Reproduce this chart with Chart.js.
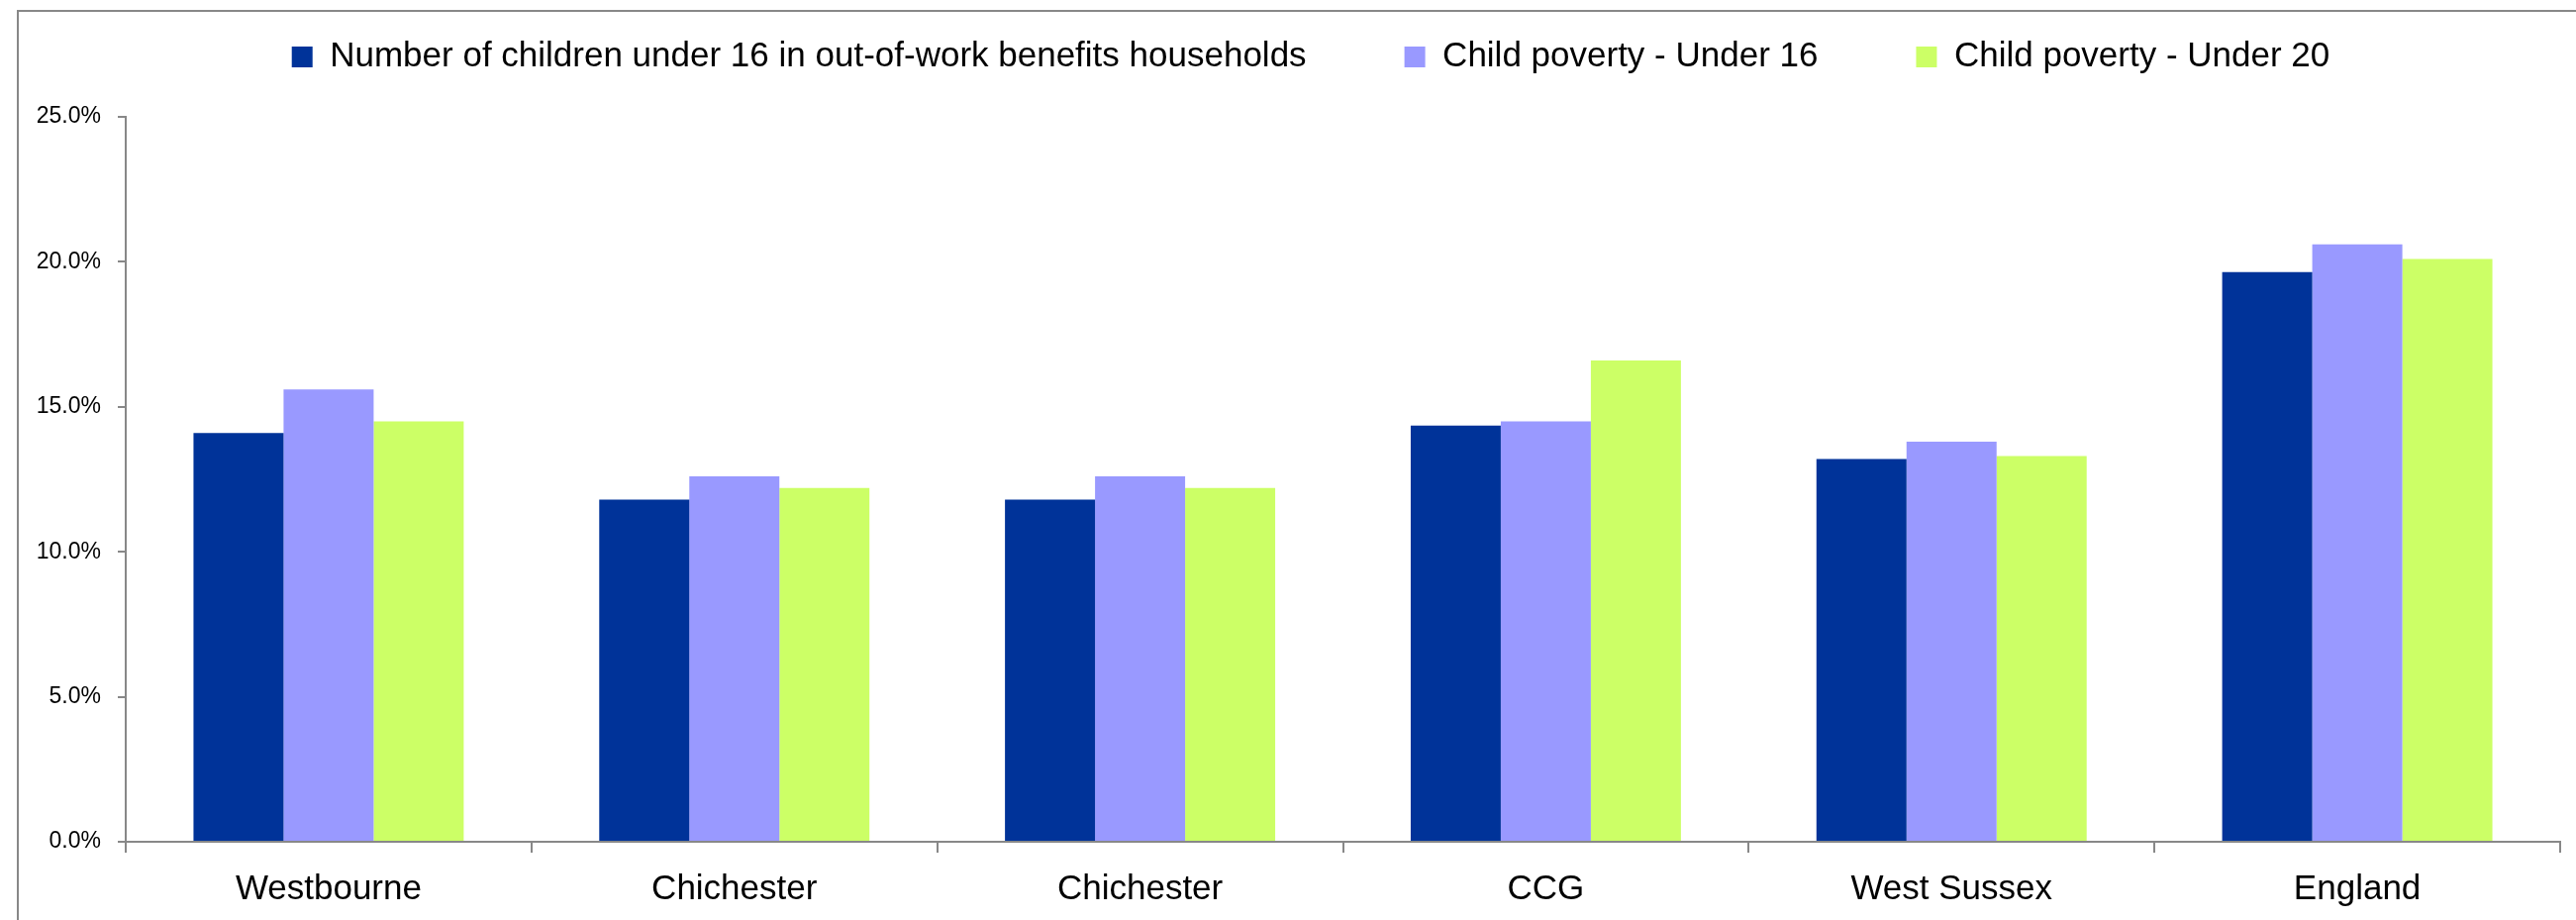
<!DOCTYPE html>
<html>
<head>
<meta charset="utf-8">
<style>
body { margin: 0; background: #fff; }
</style>
</head>
<body>
<canvas id="barChart" width="2602" height="929"></canvas>

<script src="https://cdn.jsdelivr.net/npm/chart.js"></script>

<script>
// values (percent)
const areas = ['Westbourne', 'Chichester', 'Chichester', 'CCG', 'West Sussex', 'England'];
const outOfWorkUnder16 = [14.1, 11.8, 11.8, 14.35, 13.2, 19.65];
const povertyUnder16 = [15.6, 12.6, 12.6, 14.5, 13.8, 20.6];
const povertyUnder20 = [14.5, 12.2, 12.2, 16.6, 13.3, 20.1];
const seriesNames = [
    'Number of children under 16 in out-of-work benefits households',
    'Child poverty - Under 16',
    'Child poverty - Under 20'
];
const yTicks = [0, 5, 10, 15, 20, 25];

const axisGrey = '#888888';

// push the plot area down below the legend, and nudge the legend right
const legendGap = {
    id: 'legendGap',
    beforeInit(chart) {
        const fit = chart.legend.fit;
        chart.legend.fit = function () {
            fit.call(this);
            this.height += 33;
        };
    },
    afterLayout(chart) {
        chart.legend.left += 44;
    }
};

// grey frame round the chart, like the Excel chart border
const frame = {
    id: 'frame',
    afterDraw(chart) {
        let ctx = chart.ctx;
        ctx.save();
        ctx.strokeStyle = axisGrey;
        ctx.lineWidth = 2;
        ctx.beginPath();
        ctx.moveTo(18, 929);
        ctx.lineTo(18, 11);
        ctx.lineTo(2602, 11);
        ctx.stroke();
        ctx.restore();
    }
};

let ctx = document.getElementById('barChart').getContext('2d');
let chart = new Chart(ctx, {
    type: 'bar',
    data: {
        labels: areas,
        datasets: [{
            label: seriesNames[0],
            data: outOfWorkUnder16,
            backgroundColor: '#003399'
        }, {
            label: seriesNames[1],
            data: povertyUnder16,
            backgroundColor: '#9999FF'
        }, {
            label: seriesNames[2],
            data: povertyUnder20,
            backgroundColor: '#CCFF66'
        }]
    },
    options: {
        responsive: false,
        animation: false,
        datasets: {
            bar: {
                categoryPercentage: 0.666,
                barPercentage: 1,
                borderWidth: 0
            }
        },
        layout: {
            padding: { top: -59, left: 18, right: 16, bottom: 0 }
        },
        plugins: {
            legend: {
                position: 'top',
                labels: {
                    boxWidth: 21,
                    boxHeight: 21,
                    padding: 99,
                    color: '#000',
                    font: { family: 'Liberation Sans', size: 35 }
                }
            },
            tooltip: { enabled: false }
        },
        scales: {
            x: {
                grid: {
                    drawOnChartArea: false,
                    offset: true,
                    color: axisGrey,
                    lineWidth: 2,
                    tickLength: 11
                },
                border: { color: axisGrey, width: 2 },
                ticks: {
                    color: '#000',
                    padding: 16,
                    font: { family: 'Liberation Sans', size: 35 }
                },
                afterFit(scale) {
                    scale.height = 79;
                }
            },
            y: {
                min: 0,
                max: 25,
                afterBuildTicks(scale) {
                    scale.ticks = yTicks.map(v => ({ value: v }));
                },
                grid: {
                    drawOnChartArea: false,
                    color: axisGrey,
                    lineWidth: 2,
                    tickLength: 8
                },
                border: { color: axisGrey, width: 2 },
                ticks: {
                    color: '#000',
                    padding: 17,
                    font: { family: 'Liberation Sans', size: 23 },
                    callback: v => v.toFixed(1) + '%'
                },
                afterFit(scale) {
                    scale.width = 109;
                }
            }
        }
    },
    plugins: [legendGap, frame]
});
</script>

</body>
</html>
